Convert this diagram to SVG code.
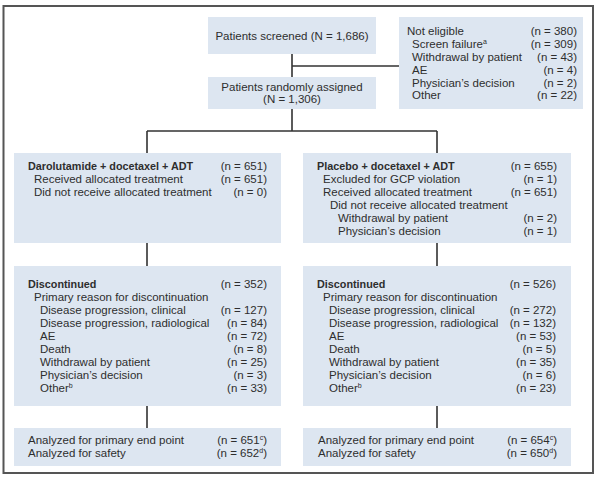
<svg xmlns="http://www.w3.org/2000/svg" width="600" height="479" viewBox="0 0 600 479">
<style>
text{font-family:"Liberation Sans",Arial,sans-serif;font-size:11.5px;fill:#2e2e2e}
.b{font-weight:bold;font-size:10.8px}
.r{text-anchor:end}
.c{text-anchor:middle}
.box{fill:#dde6f1}
.ln{stroke:#333;stroke-width:1.6;fill:none}
.sup{font-size:7px}
</style>
<rect x="0" y="0" width="600" height="479" fill="#fff"/>
<rect x="3.5" y="6" width="589.5" height="467" fill="none" stroke="#555" stroke-width="2"/>
<g id="connectors">
<path class="ln" d="M292 54V77M292 66H399M292 109V131M147 131H437M147 131V153M437 131V153M147 243V266M437 243V266M147 406V428M437 406V428"/>
</g>
<g id="screened">
<rect class="box" x="208" y="17" width="168" height="37"/>
<text class="c" x="292" y="39.5">Patients screened (N = 1,686)</text>
</g>
<g id="randomized">
<rect class="box" x="208" y="77" width="168" height="32"/>
<text class="c" x="292" y="90.5">Patients randomly assigned</text>
<text class="c" x="292" y="103">(N = 1,306)</text>
</g>
<g id="not-eligible">
<rect class="box" x="399" y="17" width="184" height="92"/>
<text x="407" y="35">Not eligible</text><text class="r" x="577" y="35">(n = 380)</text>
<text x="412" y="48">Screen failure<tspan class="sup" dy="-4">a</tspan></text><text class="r" x="577" y="48">(n = 309)</text>
<text x="412" y="61">Withdrawal by patient</text><text class="r" x="577" y="61">(n = 43)</text>
<text x="412" y="73.5">AE</text><text class="r" x="577" y="73.5">(n = 4)</text>
<text x="412" y="86.5">Physician’s decision</text><text class="r" x="577" y="86.5">(n = 2)</text>
<text x="412" y="99">Other</text><text class="r" x="577" y="99">(n = 22)</text>
</g>
<g id="daro-arm">
<rect class="box" x="14" y="153" width="267" height="90"/>
<text class="b" x="28" y="170">Darolutamide + docetaxel + ADT</text><text class="r" x="267" y="170">(n = 651)</text>
<text x="34" y="183">Received allocated treatment</text><text class="r" x="267" y="183">(n = 651)</text>
<text x="34" y="196">Did not receive allocated treatment</text><text class="r" x="267" y="196">(n = 0)</text>
</g>
<g id="placebo-arm">
<rect class="box" x="303" y="153" width="268" height="90"/>
<text class="b" x="317" y="170">Placebo + docetaxel + ADT</text><text class="r" x="557" y="170">(n = 655)</text>
<text x="323" y="183">Excluded for GCP violation</text><text class="r" x="557" y="183">(n = 1)</text>
<text x="323" y="196">Received allocated treatment</text><text class="r" x="557" y="196">(n = 651)</text>
<text x="330" y="209">Did not receive allocated treatment</text>
<text x="338" y="222">Withdrawal by patient</text><text class="r" x="557" y="222">(n = 2)</text>
<text x="338" y="235">Physician’s decision</text><text class="r" x="557" y="235">(n = 1)</text>
</g>
<g id="daro-discontinued">
<rect class="box" x="14" y="266" width="267" height="140"/>
<text class="b" x="28" y="288">Discontinued</text><text class="r" x="267" y="288">(n = 352)</text>
<text x="34" y="301">Primary reason for discontinuation</text>
<text x="40" y="314">Disease progression, clinical</text><text class="r" x="267" y="314">(n = 127)</text>
<text x="40" y="327">Disease progression, radiological</text><text class="r" x="267" y="327">(n = 84)</text>
<text x="40" y="340">AE</text><text class="r" x="267" y="340">(n = 72)</text>
<text x="40" y="353">Death</text><text class="r" x="267" y="353">(n = 8)</text>
<text x="40" y="365.5">Withdrawal by patient</text><text class="r" x="267" y="365.5">(n = 25)</text>
<text x="40" y="378.5">Physician’s decision</text><text class="r" x="267" y="378.5">(n = 3)</text>
<text x="40" y="391.5">Other<tspan class="sup" dy="-4">b</tspan></text><text class="r" x="267" y="391.5">(n = 33)</text>
</g>
<g id="placebo-discontinued">
<rect class="box" x="303" y="266" width="268" height="140"/>
<text class="b" x="317" y="288">Discontinued</text><text class="r" x="556" y="288">(n = 526)</text>
<text x="323" y="301">Primary reason for discontinuation</text>
<text x="329" y="314">Disease progression, clinical</text><text class="r" x="556" y="314">(n = 272)</text>
<text x="329" y="327">Disease progression, radiological</text><text class="r" x="556" y="327">(n = 132)</text>
<text x="329" y="340">AE</text><text class="r" x="556" y="340">(n = 53)</text>
<text x="329" y="353">Death</text><text class="r" x="556" y="353">(n = 5)</text>
<text x="329" y="365.5">Withdrawal by patient</text><text class="r" x="556" y="365.5">(n = 35)</text>
<text x="329" y="378.5">Physician’s decision</text><text class="r" x="556" y="378.5">(n = 6)</text>
<text x="329" y="391.5">Other<tspan class="sup" dy="-4">b</tspan></text><text class="r" x="556" y="391.5">(n = 23)</text>
</g>
<g id="daro-analyzed">
<rect class="box" x="14" y="428" width="267" height="38"/>
<text x="28" y="443.5">Analyzed for primary end point</text><text class="r" x="267" y="443.5">(n = 651<tspan class="sup" dy="-4">c</tspan><tspan dy="4">)</tspan></text>
<text x="28" y="456.5">Analyzed for safety</text><text class="r" x="267" y="456.5">(n = 652<tspan class="sup" dy="-4">d</tspan><tspan dy="4">)</tspan></text>
</g>
<g id="placebo-analyzed">
<rect class="box" x="303" y="428" width="268" height="38"/>
<text x="318" y="443.5">Analyzed for primary end point</text><text class="r" x="557" y="443.5">(n = 654<tspan class="sup" dy="-4">c</tspan><tspan dy="4">)</tspan></text>
<text x="318" y="456.5">Analyzed for safety</text><text class="r" x="557" y="456.5">(n = 650<tspan class="sup" dy="-4">d</tspan><tspan dy="4">)</tspan></text>
</g>
</svg>
